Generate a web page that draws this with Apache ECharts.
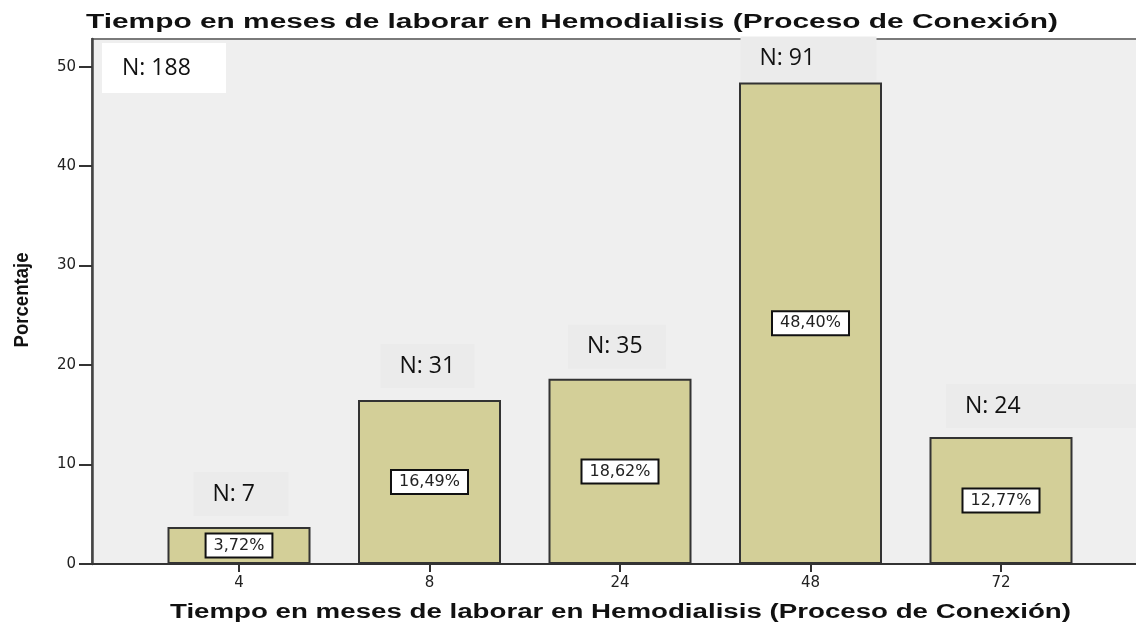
<!DOCTYPE html>
<html>
<head>
<meta charset="utf-8">
<script src="https://cdn.jsdelivr.net/npm/echarts@6/dist/echarts.min.js"></script>
<style>
  html, body { margin: 0; padding: 0; background: #fff; }
  #chart { width: 1136px; height: 622px; }
</style>
</head>
<body>
<div id="chart"></div>
<script>
// datos del gráfico
var categories = ['4', '8', '24', '48', '72'];
var percentValues = [3.72, 16.49, 18.62, 48.40, 12.77];
var nCounts = [7, 31, 35, 91, 24];
var totalN = 188;
var yTicks = [0, 10, 20, 30, 40, 50];
var titleText = 'Tiempo en meses de laborar en Hemodialisis (Proceso de Conexión)';
var yName = 'Porcentaje';

// cajas "N:" encima de cada barra (ancho, desplazamiento x, separación)
var nBoxes = [
    { w: 95, dx: 2, gap: 11 },
    { w: 94, dx: -2, gap: 12 },
    { w: 98, dx: -3, gap: 10 },
    { w: 136, dx: -2, gap: 2 },
    { w: 200, dx: 45, gap: 9 }
];

var yMax = 52.78;

// escala horizontal para que el texto ocupe el ancho del original
function scaleFor(text, font, target) {
    var ctx = document.createElement('canvas').getContext('2d');
    ctx.font = font;
    return target / ctx.measureText(text).width;
}

var titleFont = 'bold 20px "Liberation Sans"';
var yNameFont = 'bold 21px "Liberation Sans"';

var rich = {};
nBoxes.forEach(function(b, i) {
    rich['b' + i] = {
        width: b.w - 19,
        align: 'left',
        fontFamily: 'Open Sans',
        fontSize: 23,
        lineHeight: 24,
        color: '#111'
    };
});

var fmtPct = function(v) {
    return v.toFixed(2).replace('.', ',') + '%';
};

option = {
    animation: false,
    grid: [{
        left: 92, top: 39, right: -20, bottom: 58,
        show: true,
        backgroundColor: '#efefef',
        borderColor: '#7a7a7a',
        borderWidth: 2,
        outerBoundsMode: 'none'
    }, {
        left: 143.75, top: 39, width: 952.5, bottom: 58,
        outerBoundsMode: 'none'
    }],
    xAxis: [{
        gridIndex: 0,
        type: 'value',
        min: 0,
        max: 1,
        axisLine: { show: true, onZero: false, lineStyle: { color: '#333', width: 2 } },
        axisTick: { show: false },
        axisLabel: { show: false },
        splitLine: { show: false }
    }, {
        gridIndex: 1,
        type: 'category',
        data: categories,
        axisLine: { show: false },
        axisTick: { show: true, alignWithLabel: true, length: 8, lineStyle: { color: '#333', width: 2 } },
        axisLabel: { margin: 12, fontFamily: 'DejaVu Sans', fontSize: 15, color: '#222' },
        splitLine: { show: false }
    }],
    yAxis: [{
        gridIndex: 0,
        type: 'value',
        min: 0,
        max: yMax,
        axisLine: { show: true, lineStyle: { color: '#444', width: 2.5 } },
        axisTick: { show: true, length: 13, customValues: yTicks, lineStyle: { color: '#333', width: 2 } },
        axisLabel: { customValues: yTicks, margin: 16, fontFamily: 'DejaVu Sans', fontSize: 15, color: '#222' },
        splitLine: { show: false }
    }, {
        gridIndex: 1,
        type: 'value',
        min: 0,
        max: yMax,
        show: false
    }],
    series: [{
        type: 'bar',
        xAxisIndex: 1,
        yAxisIndex: 1,
        data: percentValues,
        barWidth: 143,
        barGap: '-100%',
        itemStyle: { color: '#d3cf98', borderColor: '#333', borderWidth: 2 },
        label: {
            show: true,
            position: 'inside',
            formatter: function(p) { return fmtPct(p.value); },
            backgroundColor: '#fff',
            borderColor: '#111',
            borderWidth: 2,
            padding: [3, 7],
            fontFamily: 'DejaVu Sans',
            fontSize: 16,
            color: '#222'
        },
        z: 3
    }, {
        type: 'bar',
        xAxisIndex: 1,
        yAxisIndex: 1,
        barWidth: 143,
        barGap: '-100%',
        silent: true,
        data: percentValues.map(function(v, i) {
            return { value: v, label: { offset: [nBoxes[i].dx, 0], distance: nBoxes[i].gap } };
        }),
        itemStyle: { color: 'transparent' },
        label: {
            show: true,
            position: 'top',
            formatter: function(p) { return '{b' + p.dataIndex + '|N: ' + nCounts[p.dataIndex] + '}'; },
            backgroundColor: '#ebebeb',
            padding: [10, 0, 10, 19],
            rich: rich
        },
        z: 4
    }],
    graphic: [{
        type: 'text',
        x: 86, y: 22, z: 100,
        scaleX: scaleFor(titleText, titleFont, 972),
        style: { text: titleText, font: titleFont, fill: '#111', align: 'left', textAlign: 'left', verticalAlign: 'middle', textVerticalAlign: 'middle' }
    }, {
        type: 'text',
        x: 170, y: 612, z: 100,
        scaleX: scaleFor(titleText, titleFont, 901),
        style: { text: titleText, font: titleFont, fill: '#111', align: 'left', textAlign: 'left', verticalAlign: 'middle', textVerticalAlign: 'middle' }
    }, {
        type: 'text',
        x: 22, y: 300, z: 100,
        rotation: Math.PI / 2,
        scaleX: scaleFor(yName, yNameFont, 95),
        style: { text: yName, font: yNameFont, fill: '#111', align: 'center', textAlign: 'center', verticalAlign: 'middle', textVerticalAlign: 'middle' }
    }, {
        type: 'group',
        x: 102, y: 43, z: 100,
        children: [{
            type: 'rect',
            z: 100,
            shape: { x: 0, y: 0, width: 124, height: 50 },
            style: { fill: '#fff' }
        }, {
            type: 'text',
            z: 101,
            x: 20, y: 25,
            style: { text: 'N: ' + totalN, font: '23px "Open Sans"', fill: '#111', align: 'left', textAlign: 'left', verticalAlign: 'middle', textVerticalAlign: 'middle' }
        }]
    }]
};

var myChart = echarts.init(document.getElementById('chart'));
myChart.setOption(option);
</script>
</body>
</html>
